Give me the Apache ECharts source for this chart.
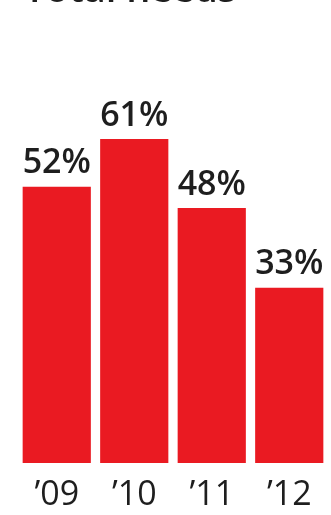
<!DOCTYPE html>
<html>
<head>
<meta charset="utf-8">
<script src="https://cdn.jsdelivr.net/npm/echarts@6/dist/echarts.min.js"></script>
<style>
  html, body { margin: 0; padding: 0; background: #ffffff; }
  #chart { width: 331px; height: 515px; }
</style>
</head>
<body>
<div id="chart"></div>
<script>
// Share of total needs met, by year
const years = ['’09', '’10', '’11', '’12'];
const shares = [52, 61, 48, 33];
const titleText = 'Total needs';

const chart = echarts.init(document.getElementById('chart'), null, { renderer: 'canvas' });

chart.setOption({
  animation: false,
  backgroundColor: '#ffffff',
  title: {
    text: titleText,
    left: 19,
    top: -33,
    textStyle: {
      fontFamily: '"Open Sans", sans-serif',
      fontSize: 38,
      fontWeight: 600,
      color: '#1e1e1e'
    }
  },
  grid: { left: 18, right: 3, top: 38, bottom: 52 },
  xAxis: {
    type: 'category',
    data: years,
    axisLine: { show: false },
    axisTick: { show: false },
    axisLabel: {
      margin: 15,
      fontFamily: '"Open Sans", sans-serif',
      fontSize: 34,
      color: '#1e1e1e'
    }
  },
  yAxis: {
    type: 'value',
    min: 0,
    max: 80,
    show: false,
    splitLine: { show: false }
  },
  series: [{
    type: 'bar',
    data: shares,
    barCategoryGap: '12%',
    itemStyle: { color: '#ea1a22' },
    label: {
      show: true,
      position: 'top',
      distance: 6,
      formatter: p => p.value + '%',
      fontFamily: '"Open Sans", sans-serif',
      fontSize: 34,
      fontWeight: 600,
      color: '#1e1e1e'
    }
  }]
});
</script>
</body>
</html>
